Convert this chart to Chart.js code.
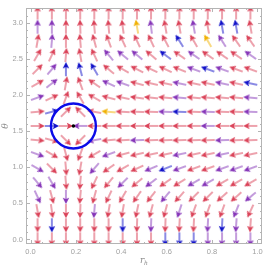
<!DOCTYPE html>
<html>
<head>
<meta charset="utf-8">
<script src="https://cdn.jsdelivr.net/npm/chart.js@4/dist/chart.umd.min.js"></script>
<style>
html, body { margin: 0; padding: 0; background: #fff; }
</style>
</head>
<body>
<canvas id="vecChart" width="270" height="269"></canvas>
<script>
//sample points of the field
const rhPoints = [0.031, 0.094, 0.156, 0.219, 0.281, 0.344, 0.406, 0.469, 0.531, 0.594, 0.656, 0.719, 0.781, 0.844, 0.906, 0.969];
//theta rows, top row first
const thetaPoints = [3.142, 2.945, 2.749, 2.553, 2.356, 2.160, 1.963, 1.767, 1.571, 1.374, 1.178, 0.982, 0.785, 0.589, 0.393, 0.196, 0.0];

//arrow directions in degrees (screen angle, counter-clockwise), same row order
const arrowAngles = [
    [90, 90, 90, 90, 90, 90, 90, 90, 90, 90, 90, 90, 90, 90, 90, 90],
    [90, 90, 90, 92, 95, 95, 98, 100, 97, 100, 100, 100, 100, 100, 100, 100],
    [80, 85, 90, 95, 105, 110, 115, 115, 115, 118, 122, 120, 120, 122, 125, 125],
    [60, 65, 85, 100, 115, 130, 140, 140, 140, 143, 145, 145, 145, 145, 145, 145],
    [45, 50, 90, 105, 120, 140, 150, 153, 155, 155, 158, 160, 160, 160, 160, 160],
    [30, 38, 80, 110, 145, 155, 160, 165, 167, 168, 168, 168, 168, 168, 168, 168],
    [20, 25, 70, 120, 150, 165, 168, 172, 174, 175, 175, 175, 175, 175, 175, 175],
    [5, 15, 45, 135, 170, 175, 177, 178, 178, 178, 178, 178, 178, 178, 178, 178],
    [0, 0, 0, 180, 180, 180, 180, 180, 180, 180, 180, 180, 180, 180, 180, 180],
    [-5, -15, -45, -135, -170, -175, -177, -178, -178, -178, -178, -178, -178, -178, -178, -178],
    [-20, -30, -75, -110, -150, -160, -165, -167, -168, -168, -168, -168, -168, -168, -168, -168],
    [-30, -45, -85, -100, -130, -145, -150, -155, -157, -158, -160, -160, -160, -160, -160, -160],
    [-50, -60, -85, -95, -115, -130, -135, -140, -143, -145, -148, -150, -150, -150, -150, -150],
    [-65, -75, -90, -95, -105, -115, -120, -125, -128, -130, -132, -135, -135, -138, -138, -140],
    [-80, -82, -90, -92, -95, -100, -100, -102, -105, -105, -108, -110, -110, -110, -112, -115],
    [-90, -90, -90, -90, -90, -90, -90, -92, -92, -92, -93, -93, -93, -93, -94, -94],
    [-90, -90, -90, -90, -90, -90, -90, -90, -90, -90, -90, -90, -90, -90, -90, -90]
];

//arrow colours: r = red, p = purple, b = blue, y = yellow
const arrowColors = [
    'rrrrrrrrrrrrrrrr',
    'pprrrrryprrprbbr',
    'rprrrrrrrrbryprr',
    'rrrrrppprbrprrrp',
    'rpbbbrrrrrrpbprr',
    'rprrrpprrrprrprb',
    'prrrrrrrrrprrrrp',
    'rbrrryrrrpbrprrp',
    'rbrprrrrrrrrprrr',
    'rrrrprrprrrrrprr',
    'prrrrprrrrprrprr',
    'prrrprrrpbprrppp',
    'pprrrrprprrpprrr',
    'prprrrrrrprrrrrp',
    'rrrrprrrrrprrrpr',
    'rbrrrrbrprrrpbpr',
    'rrrrrrrrrbbbpppp'
];

//fixed point and the circle round it
const fixedPoint = [{ x: 0.189, y: 1.571 }];
const circleRadius = 0.099;

//axis ticks
const xTicks = [0, 0.2, 0.4, 0.6, 0.8, 1.0];
const yTicks = [0, 0.5, 1.0, 1.5, 2.0, 2.5, 3.0];
const xMinorTicks = [0.05, 0.1, 0.15, 0.25, 0.3, 0.35, 0.45, 0.5, 0.55, 0.65, 0.7, 0.75, 0.85, 0.9, 0.95];
const yMinorTicks = [0.1, 0.2, 0.3, 0.4, 0.6, 0.7, 0.8, 0.9, 1.1, 1.2, 1.3, 1.4, 1.6, 1.7, 1.8, 1.9, 2.1, 2.2, 2.3, 2.4, 2.6, 2.7, 2.8, 2.9, 3.1];

const palette = { r: '#da4258', p: '#8534b8', b: '#1010c8', y: '#f0b000' };

//arrow images, one per colour
function makeArrow(color) {
    const c = document.createElement('canvas');
    c.width = 16;
    c.height = 16;
    const g = c.getContext('2d');
    g.translate(8, 8);
    g.globalAlpha = 0.55;
    g.strokeStyle = color;
    g.lineWidth = 1.8;
    g.beginPath();
    g.moveTo(-7, 0);
    g.lineTo(2.5, 0);
    g.stroke();
    g.globalAlpha = 1;
    g.fillStyle = color;
    g.beginPath();
    g.moveTo(7.2, 0);
    g.lineTo(0.8, -3.2);
    g.lineTo(2.2, 0);
    g.lineTo(0.8, 3.2);
    g.closePath();
    g.fill();
    return c;
}
const arrowImages = {};
for (const k in palette) arrowImages[k] = makeArrow(palette[k]);

let arrowData = [];
for (var i = 0; i < thetaPoints.length; i++) {
    for (var j = 0; j < rhPoints.length; j++) {
        arrowData.push({ x: rhPoints[j], y: thetaPoints[i], a: arrowAngles[i][j], c: arrowColors[i][j] });
    }
}

//frame with inward ticks and the axis titles
const framePlugin = {
    id: 'frame',
    afterDraw(chart) {
        const { ctx, chartArea: a, scales } = chart;
        ctx.save();
        ctx.strokeStyle = '#b4b4b4';
        ctx.lineWidth = 1;
        ctx.strokeRect(a.left + 0.5, a.top + 0.5, a.right - a.left - 1, a.bottom - a.top - 1);
        const tick = (vals, len) => {
            vals.forEach((v) => {
                const px = Math.round(scales.x.getPixelForValue(v)) + 0.5;
                ctx.beginPath();
                ctx.moveTo(px, a.bottom); ctx.lineTo(px, a.bottom - len);
                ctx.moveTo(px, a.top); ctx.lineTo(px, a.top + len);
                ctx.stroke();
            });
        };
        const tickY = (vals, len) => {
            vals.forEach((v) => {
                const py = Math.round(scales.y.getPixelForValue(v)) + 0.5;
                ctx.beginPath();
                ctx.moveTo(a.left, py); ctx.lineTo(a.left + len, py);
                ctx.moveTo(a.right, py); ctx.lineTo(a.right - len, py);
                ctx.stroke();
            });
        };
        tick(xTicks, 4);
        tick(xMinorTicks, 2);
        tickY(yTicks, 4);
        tickY(yMinorTicks, 2);

        ctx.fillStyle = '#8a8a8a';
        ctx.textAlign = 'center';
        ctx.textBaseline = 'middle';
        ctx.translate(6, (a.top + a.bottom) / 2);
        ctx.rotate(-Math.PI / 2);
        ctx.font = 'italic 9px "DejaVu Serif"';
        ctx.fillText('θ', 0, 0);
        ctx.restore();

        ctx.save();
        ctx.fillStyle = '#8a8a8a';
        ctx.textBaseline = 'alphabetic';
        ctx.textAlign = 'left';
        const cx = (a.left + a.right) / 2;
        ctx.font = 'italic 9px "DejaVu Serif"';
        ctx.fillText('r', cx - 4, 263);
        ctx.font = 'italic 6px "DejaVu Serif"';
        ctx.fillText('h', cx, 265);
        ctx.restore();
    }
};

new Chart(document.getElementById('vecChart'), {
    type: 'scatter',
    data: {
        datasets: [
            {
                data: fixedPoint,
                pointStyle: 'circle',
                pointRadius: 1.8,
                backgroundColor: '#000',
                borderColor: '#000',
                borderWidth: 0,
                order: 0
            },
            {
                data: fixedPoint,
                pointStyle: 'circle',
                pointRadius: (ctx) => {
                    const s = ctx.chart.scales.x;
                    return s.getPixelForValue(circleRadius) - s.getPixelForValue(0);
                },
                backgroundColor: 'rgba(0,0,0,0)',
                borderColor: '#0b0be8',
                borderWidth: 2.4,
                order: 1
            },
            {
                data: arrowData,
                pointStyle: (ctx) => ctx.raw ? arrowImages[ctx.raw.c] : 'circle',
                pointRotation: (ctx) => ctx.raw ? -ctx.raw.a : 0,
                pointRadius: 7,
                order: 2
            }
        ]
    },
    options: {
        responsive: false,
        animation: false,
        events: [],
        layout: { padding: { top: 0, right: 1, left: 0, bottom: 0 } },
        plugins: { legend: { display: false }, tooltip: { enabled: false } },
        scales: {
            x: {
                type: 'linear',
                min: -0.02,
                max: 1.02,
                afterBuildTicks: (s) => { s.ticks = xTicks.map((v) => ({ value: v })); },
                afterFit: (s) => { s.height = 25; },
                grid: { display: false, drawTicks: false },
                border: { display: false },
                ticks: {
                    padding: 3,
                    color: '#a0a0a0',
                    font: { family: 'Liberation Sans', size: 7.5 },
                    callback: (v) => v.toFixed(1)
                }
            },
            y: {
                type: 'linear',
                min: -0.063,
                max: 3.204,
                afterBuildTicks: (s) => { s.ticks = yTicks.map((v) => ({ value: v })); },
                afterFit: (s) => { s.width = 26; },
                grid: { display: false, drawTicks: false },
                border: { display: false },
                ticks: {
                    padding: 3,
                    color: '#a0a0a0',
                    font: { family: 'Liberation Sans', size: 7.5 },
                    callback: (v) => v.toFixed(1)
                }
            }
        }
    },
    plugins: [framePlugin]
});
</script>
</body>
</html>
